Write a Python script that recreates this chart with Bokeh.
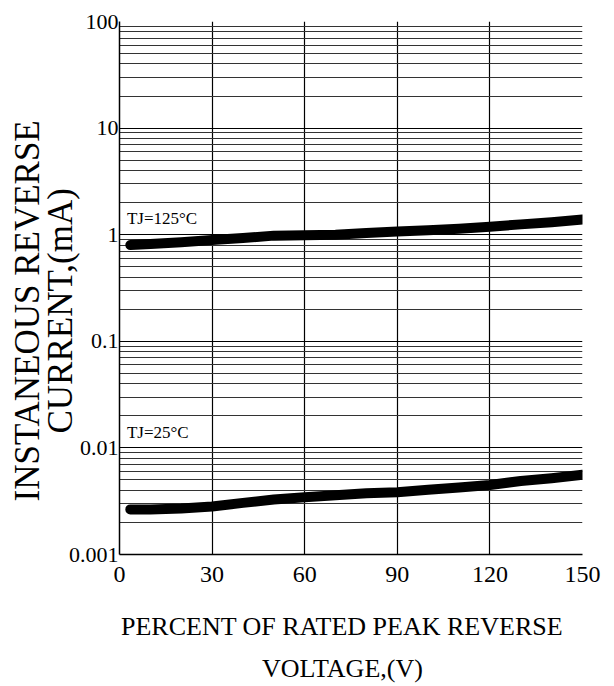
from bokeh.plotting import figure
from bokeh.models import FixedTicker, Title, ColumnDataSource, Range1d
from bokeh.core.properties import value
from bokeh.embed import file_html
from bokeh.resources import INLINE

# ---- data ----
x_ticks = [0, 30, 60, 90, 120, 150]
x_tick_labels = ["0", "30", "60", "90", "120", "150"]
y_ticks = [0.001, 0.01, 0.1, 1, 10, 100]
y_tick_labels = ["0.001", "0.01", "0.1", "1", "10", "100"]

pct = [3.5, 10, 20, 30, 40, 50, 60, 70, 80, 90, 100, 110, 120, 130, 140, 150]
i_125 = [0.80, 0.82, 0.85, 0.89, 0.93, 0.98, 0.99, 1.00, 1.04, 1.07, 1.10, 1.14, 1.19, 1.25, 1.31, 1.39]
i_25 = [0.00265, 0.00265, 0.00270, 0.00282, 0.00305, 0.00328, 0.00344, 0.00360,
        0.00375, 0.00384, 0.00405, 0.00425, 0.00449, 0.00490, 0.00520, 0.00560]

label_125 = "TJ=125°C"
label_25 = "TJ=25°C"
x_title = ["PERCENT OF RATED PEAK REVERSE", "VOLTAGE,(V)"]
y_title = ["INSTANEOUS REVERSE", "CURRENT,(mA)"]

FONT = "Liberation Serif"

minor = [m * 10.0 ** k for k in range(-3, 2) for m in range(2, 10)]

p = figure(width=606, height=684, y_axis_type="log",
           x_range=Range1d(0, 150), y_range=Range1d(0.001, 100),
           output_backend="svg", toolbar_location=None,
           min_border_left=119, min_border_right=24,
           min_border_top=21, min_border_bottom=130)
p.outline_line_color = None
p.background_fill_color = "white"
p.border_fill_color = "white"

# x axis
p.xaxis.ticker = FixedTicker(ticks=x_ticks)
p.xaxis.major_label_overrides = {t: l for t, l in zip(x_ticks, x_tick_labels)}
p.xaxis.major_label_text_font = FONT
p.xaxis.major_label_text_font_size = "24px"
p.xaxis.major_label_text_color = "black"
p.xaxis.major_label_standoff = 12
p.xaxis.major_tick_out = 0
p.xaxis.major_tick_in = 0
p.xaxis.minor_tick_out = 0
p.xaxis.axis_line_color = "black"
p.xaxis.axis_line_width = 1.5

# y axis
p.yaxis.ticker = FixedTicker(ticks=y_ticks, minor_ticks=minor)
p.yaxis.major_label_overrides = {t: l for t, l in zip(y_ticks, y_tick_labels)}
p.yaxis.major_label_text_font = FONT
p.yaxis.major_label_text_font_size = "22px"
p.yaxis.major_label_text_color = "black"
p.yaxis.major_label_standoff = 1
p.yaxis.major_tick_out = 0
p.yaxis.major_tick_in = 0
p.yaxis.minor_tick_out = 0
p.yaxis.minor_tick_in = 0
p.yaxis.axis_line_color = "black"
p.yaxis.axis_line_width = 1.5

# grids
p.xgrid.ticker = FixedTicker(ticks=x_ticks)
p.xgrid.grid_line_color = "black"
p.xgrid.grid_line_width = 1.2
p.ygrid.ticker = FixedTicker(ticks=y_ticks, minor_ticks=minor)
p.ygrid.grid_line_color = "black"
p.ygrid.grid_line_width = 1.2
p.ygrid.minor_grid_line_color = "#333333"
p.ygrid.minor_grid_line_width = 1

# curves
src125 = ColumnDataSource(dict(x=pct, y=i_125))
src25 = ColumnDataSource(dict(x=pct, y=i_25))
for s in (src125, src25):
    p.line("x", "y", source=s, line_color="black", line_width=10,
           line_cap="round", line_join="round")

# curve labels
p.text(x=[2.4], y=[1.43], text=[label_125], text_font=value(FONT),
       text_font_size="17px", text_baseline="middle", text_align="left",
       text_color="black")
p.text(x=[2.4], y=[0.0138], text=[label_25], text_font=value(FONT),
       text_font_size="17px", text_baseline="middle", text_align="left",
       text_color="black")

# axis titles (stacked outward from the frame)
def mk_title(txt, size, offset, standoff):
    return Title(text=txt, align="left", offset=offset, standoff=standoff,
                 text_font=FONT, text_font_size=size, text_font_style="normal",
                 text_color="black")

p.add_layout(mk_title(x_title[0], "26px", 1.5, 51), "below")
p.add_layout(mk_title(x_title[1], "26px", 142.5, -30), "below")
p.add_layout(mk_title(y_title[1], "35px", 121, -28), "left")
p.add_layout(mk_title(y_title[0], "35px", 53, 11), "left")

open("out.html", "w").write(file_html(p, INLINE))
